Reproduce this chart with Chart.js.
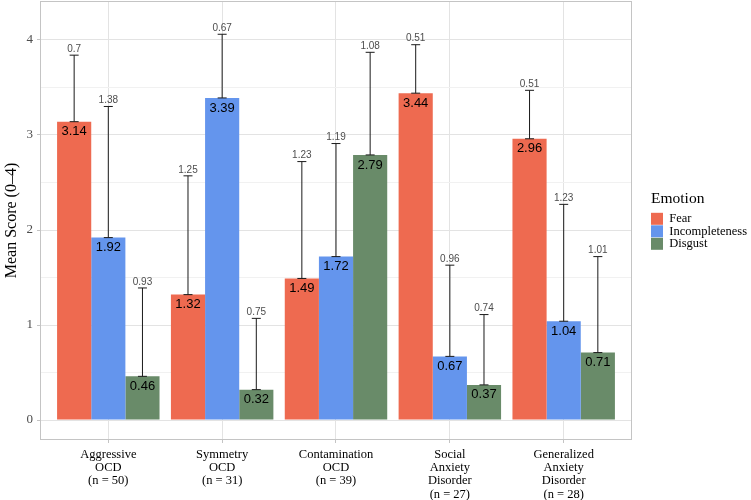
<!DOCTYPE html>
<html>
<head>
<meta charset="utf-8">
<script src="https://cdn.jsdelivr.net/npm/chart.js@4.4.1/dist/chart.umd.min.js"></script>
<style>
  html, body { margin: 0; padding: 0; background: #fff; }
</style>
</head>
<body>
<canvas id="mycanvas" width="751" height="500"></canvas>
<script>
var categories = [
    ["Aggressive", "OCD", "(n = 50)"],
    ["Symmetry", "OCD", "(n = 31)"],
    ["Contamination", "OCD", "(n = 39)"],
    ["Social", "Anxiety", "Disorder", "(n = 27)"],
    ["Generalized", "Anxiety", "Disorder", "(n = 28)"]
];
var emotions = ["Fear", "Incompleteness", "Disgust"];
var colors = ["#EE6A50", "#6495ED", "#698B69"];

var fearMean = [3.14, 1.32, 1.49, 3.44, 2.96];
var incompMean = [1.92, 3.39, 1.72, 0.67, 1.04];
var disgustMean = [0.46, 0.32, 2.79, 0.37, 0.71];

var fearSd = [0.7, 1.25, 1.23, 0.51, 0.51];
var incompSd = [1.38, 0.67, 1.19, 0.96, 1.23];
var disgustSd = [0.93, 0.75, 1.08, 0.74, 1.01];

var yTicks = [0, 0.5, 1, 1.5, 2, 2.5, 3, 3.5, 4];

var means = [fearMean, incompMean, disgustMean];
var sds = [fearSd, incompSd, disgustSd];

var serif = "'Liberation Serif', 'Times New Roman', serif";
var sans = "'Liberation Sans', Arial, sans-serif";

var datasets = [];
for (var i = 0; i < emotions.length; i++) {
    var pts = [];
    for (var j = 0; j < categories.length; j++) {
        pts.push({ x: j + 1, y: means[i][j] });
    }
    datasets.push({
        label: emotions[i],
        data: pts,
        backgroundColor: colors[i],
        borderWidth: 0,
        categoryPercentage: 0.9,
        barPercentage: 1
    });
}

// error bars (mean to mean + sd) and the two value labels
var errorBars = {
    id: 'errorBars',
    afterDatasetsDraw: function (chart) {
        var ctx = chart.ctx;
        var yScale = chart.scales.y;
        ctx.save();
        for (var i = 0; i < chart.data.datasets.length; i++) {
            var meta = chart.getDatasetMeta(i);
            for (var j = 0; j < meta.data.length; j++) {
                var bar = meta.data[j];
                var m = means[i][j], s = sds[i][j];
                var yLow = yScale.getPixelForValue(m);
                var yHigh = yScale.getPixelForValue(m + s);
                var x = bar.x;
                ctx.strokeStyle = '#1a1a1a';
                ctx.lineWidth = 1;
                ctx.beginPath();
                ctx.moveTo(x, yLow); ctx.lineTo(x, yHigh);
                ctx.moveTo(x - 4.5, yHigh); ctx.lineTo(x + 4.5, yHigh);
                ctx.moveTo(x - 4.5, yLow); ctx.lineTo(x + 4.5, yLow);
                ctx.stroke();

                ctx.textAlign = 'center';
                ctx.fillStyle = '#4d4d4d';
                ctx.font = '10px ' + sans;
                ctx.textBaseline = 'bottom';
                ctx.fillText(String(s), x, yHigh - 1);

                ctx.fillStyle = '#000';
                ctx.font = '13px ' + sans;
                ctx.textBaseline = 'middle';
                ctx.fillText(m.toFixed(2), x, yLow + 10);
            }
        }
        ctx.restore();
    }
};

var panelBorder = {
    id: 'panelBorder',
    afterLayout: function (chart) {
        // gap between panel and legend, like ggplot
        chart.legend.left += 19;
        chart.legend.right += 19;
    },
    afterDraw: function (chart) {
        var a = chart.chartArea;
        var ctx = chart.ctx;
        ctx.save();
        ctx.strokeStyle = '#c4c4c4';
        ctx.lineWidth = 1;
        ctx.strokeRect(a.left + 0.5, a.top + 0.5, a.right - a.left - 1, a.bottom - a.top - 1);
        ctx.restore();
    }
};

var ctx = document.getElementById('mycanvas');
var barGraph = new Chart(ctx, {
    type: 'bar',
    data: { datasets: datasets },
    plugins: [errorBars, panelBorder],
    options: {
        responsive: false,
        animation: false,
        layout: { padding: { top: 1, right: 13, left: 0, bottom: 0 } },
        plugins: {
            tooltip: { enabled: false },
            legend: {
                position: 'right',
                align: 'center',
                fullSize: false,
                title: {
                    display: true,
                    text: 'Emotion',
                    position: 'start',
                    color: '#000',
                    font: { family: serif, size: 15.5 },
                    padding: { top: 0, bottom: 3 }
                },
                labels: {
                    boxWidth: 12,
                    boxHeight: 12,
                    padding: 0,
                    color: '#000',
                    font: { family: serif, size: 12.5, lineHeight: 0.96 }
                }
            }
        },
        scales: {
            x: {
                type: 'linear',
                min: 0.4,
                max: 5.6,
                offset: false,
                afterBuildTicks: function (scale) {
                    scale.ticks = [1, 2, 3, 4, 5].map(function (v) { return { value: v }; });
                },
                afterFit: function (scale) {
                    scale.height = 60;
                    scale.paddingLeft = 0;
                    scale.paddingRight = 0;
                },
                ticks: {
                    autoSkip: false,
                    maxRotation: 0,
                    padding: 5,
                    color: '#000',
                    font: { family: serif, size: 12.5, lineHeight: 1.06 },
                    callback: function (v) { return categories[v - 1]; }
                },
                grid: { offset: false, color: '#e3e3e3', tickColor: '#c4c4c4', tickLength: 3 },
                border: { display: false }
            },
            y: {
                min: -0.21,
                max: 4.41,
                afterBuildTicks: function (scale) {
                    scale.ticks = yTicks.map(function (v) { return { value: v }; });
                },
                afterFit: function (scale) {
                    scale.width = 40;
                    scale.paddingTop = 0;
                    scale.paddingBottom = 0;
                },
                ticks: {
                    padding: 4,
                    color: '#4d4d4d',
                    font: { family: serif, size: 13 },
                    callback: function (v) { return v % 1 === 0 ? String(v) : ''; }
                },
                grid: {
                    color: function (c) { return c.tick && c.tick.value % 1 === 0 ? '#e3e3e3' : '#f1f1f1'; },
                    tickColor: function (c) { return c.tick && c.tick.value % 1 === 0 ? '#c4c4c4' : 'rgba(0,0,0,0)'; },
                    tickLength: 3
                },
                border: { display: false },
                title: {
                    display: true,
                    text: 'Mean Score (0\u20134)',
                    color: '#000',
                    font: { family: serif, size: 16 },
                    padding: { top: 2, bottom: 0 }
                }
            }
        }
    }
});
</script>
</body>
</html>
